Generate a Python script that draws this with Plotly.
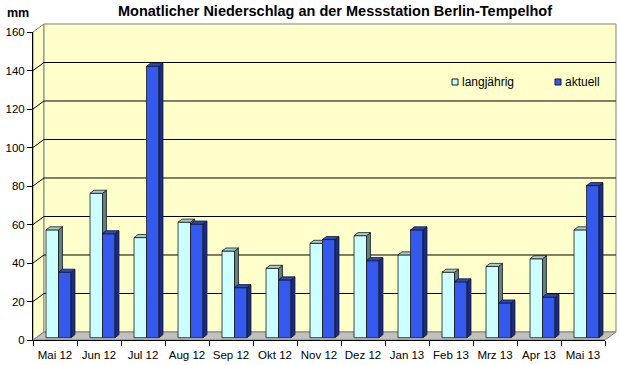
import plotly.graph_objects as go

# ---- data ----
months = ["Mai 12", "Jun 12", "Jul 12", "Aug 12", "Sep 12", "Okt 12", "Nov 12",
          "Dez 12", "Jan 13", "Feb 13", "Mrz 13", "Apr 13", "Mai 13"]
langjaehrig = [56, 75, 52, 60, 45, 36, 49, 53, 43, 34, 37, 41, 56]
aktuell = [34, 54, 141, 59, 26, 30, 51, 40, 56, 29, 18, 21, 79]
y_ticks = [0, 20, 40, 60, 80, 100, 120, 140, 160]

# ---- layout geometry ----
W, H = 620, 365
L, R, T, B = 33, 15, 32, 25
XR = [-0.5, 12.5]
YR = [0, 160]
FONT = "Arial, 'Liberation Sans', sans-serif"

# 3D depth of the walls and bars (in data units)
WALL_DX, WALL_DY = 0.25, 4.16
BAR_DX, BAR_DY = 0.09, 1.6
BASE = 1.2
OFF_L, OFF_D, BW = -0.204, 0.08, 0.284

C_L_FRONT, C_L_TOP, C_L_SIDE = "#CCFFFF", "#A6CDCD", "#5F8282"
C_D_FRONT, C_D_TOP, C_D_SIDE = "#3359EE", "#2847C4", "#1A2A88"


def to_paper(xd, yd):
    xp = (xd - XR[0]) / (XR[1] - XR[0])
    yp = (yd - YR[0]) / (YR[1] - YR[0])
    return xp, yp


def poly_path(pts, close=True):
    s = ""
    for i, (xd, yd) in enumerate(pts):
        xp, yp = to_paper(xd, yd)
        s += ("M" if i == 0 else "L") + f"{xp:.5f},{yp:.5f}"
    return s + ("Z" if close else "")


shapes = []
x0, x1 = XR
y0, y1 = YR
# left wall
shapes.append(dict(type="path", xref="paper", yref="paper", layer="below",
                   path=poly_path([(x0, y0), (x0 + WALL_DX, y0 + WALL_DY),
                                   (x0 + WALL_DX, y1 + WALL_DY), (x0, y1)]),
                   fillcolor="#FFFFCC", line=dict(color="#808080", width=1)))
# back wall
shapes.append(dict(type="path", xref="paper", yref="paper", layer="below",
                   path=poly_path([(x0 + WALL_DX, y0 + WALL_DY), (x1 + WALL_DX, y0 + WALL_DY),
                                   (x1 + WALL_DX, y1 + WALL_DY), (x0 + WALL_DX, y1 + WALL_DY)]),
                   fillcolor="#FFFFCC", line=dict(color="#808080", width=1)))
# floor
shapes.append(dict(type="path", xref="paper", yref="paper", layer="below",
                   path=poly_path([(x0, y0), (x0 + WALL_DX, y0 + WALL_DY),
                                   (x1 + WALL_DX, y0 + WALL_DY), (x1, y0)]),
                   fillcolor="#C0C0C0", line=dict(color="#808080", width=1)))
# gridlines on walls
for v in y_ticks[1:-1]:
    shapes.append(dict(type="path", xref="paper", yref="paper", layer="below",
                       path=poly_path([(x0, v), (x0 + WALL_DX, v + WALL_DY),
                                       (x1 + WALL_DX, v + WALL_DY)], close=False),
                       line=dict(color="#000000", width=1)))

fig = go.Figure()
xs = list(range(len(months)))

fig.add_trace(go.Bar(x=xs, y=langjaehrig, base=[BASE] * len(xs), offset=OFF_L, width=BW,
                     marker=dict(color=C_L_FRONT, line=dict(color="#1a1a1a", width=0.8)),
                     name="langjährig", showlegend=False))
fig.add_trace(go.Bar(x=xs, y=aktuell, base=[BASE] * len(xs), offset=OFF_D, width=BW,
                     marker=dict(color=C_D_FRONT, line=dict(color="#1a1a1a", width=0.8)),
                     name="aktuell", showlegend=False))


def faces(vals, off, other=None):
    tx, ty, sx, sy = [], [], [], []
    for i, v in enumerate(vals):
        le = i + off
        re = le + BW
        top = BASE + v
        rt = re + BAR_DX
        if other is not None and other[i] >= v:
            rt_top = re
        else:
            rt_top = rt
        tx += [le, le + BAR_DX, rt_top, re, le, None]
        ty += [top, top + BAR_DY, top + BAR_DY, top, top, None]
        if other is None:
            low = BASE
        else:
            if other[i] >= v:
                continue
            low = BASE + other[i]
        sx += [re, rt, rt, re, re, None]
        sy += [low, low + BAR_DY, top + BAR_DY, top, low, None]
    return tx, ty, sx, sy


for vals, off, other, ct, cs in [(langjaehrig, OFF_L, aktuell, C_L_TOP, C_L_SIDE),
                                 (aktuell, OFF_D, None, C_D_TOP, C_D_SIDE)]:
    tx, ty, sx, sy = faces(vals, off, other)
    fig.add_trace(go.Scatter(x=sx, y=sy, mode="lines", fill="toself", fillcolor=cs,
                             line=dict(color="#1a1a1a", width=0.8), hoverinfo="skip",
                             showlegend=False))
    fig.add_trace(go.Scatter(x=tx, y=ty, mode="lines", fill="toself", fillcolor=ct,
                             line=dict(color="#1a1a1a", width=0.8), hoverinfo="skip",
                             showlegend=False))


# manual legend
def px_to_paper(px, py):
    return (px - L) / (W - L - R), (H - B - py) / (H - T - B)


annotations = []
for label, color, sq_x in [("langjährig", C_L_FRONT, 452), ("aktuell", C_D_FRONT, 555)]:
    a0 = px_to_paper(sq_x, 85)
    a1 = px_to_paper(sq_x + 6, 79)
    shapes.append(dict(type="rect", xref="paper", yref="paper", x0=a0[0], y0=a0[1],
                       x1=a1[0], y1=a1[1], fillcolor=color,
                       line=dict(color="#1a1a1a", width=1)))
    tp = px_to_paper(sq_x + 8, 82)
    annotations.append(dict(text=label, xref="paper", yref="paper", x=tp[0], y=tp[1],
                            xanchor="left", yanchor="middle", showarrow=False,
                            font=dict(family=FONT, size=12, color="#000000")))

tp = px_to_paper(335, 11)
annotations.append(dict(text="<b>Monatlicher Niederschlag an der Messstation Berlin-Tempelhof</b>",
                        xref="paper", yref="paper", x=tp[0], y=tp[1], xanchor="center",
                        yanchor="middle", showarrow=False,
                        font=dict(family=FONT, size=14.5, color="#000000")))
tp = px_to_paper(5, 13)
annotations.append(dict(text="<b>mm</b>", xref="paper", yref="paper", x=tp[0], y=tp[1],
                        xanchor="left", yanchor="middle", showarrow=False,
                        font=dict(family=FONT, size=12.5, color="#000000")))

fig.update_layout(
    width=W, height=H,
    margin=dict(l=L, r=R, t=T, b=B, autoexpand=False),
    paper_bgcolor="#FFFFFF",
    plot_bgcolor="rgba(0,0,0,0)",
    barmode="overlay",
    shapes=shapes,
    annotations=annotations,
    font=dict(family=FONT, size=11, color="#000000"),
    xaxis=dict(range=XR, tickmode="array", tickvals=xs, ticktext=months,
               ticks="", showgrid=False, zeroline=False, showline=True, automargin=False,
               linecolor="#000000", linewidth=1, ticklabelstandoff=4,
               tickfont=dict(family=FONT, size=11.5, color="#000000"),
               minor=dict(tickmode="array", tickvals=[i - 0.5 for i in range(len(months) + 1)],
                          ticks="outside", ticklen=5, tickcolor="#000000", showgrid=False)),
    yaxis=dict(range=YR, tickmode="array", tickvals=y_ticks, ticks="outside", ticklen=5,
               tickcolor="#000000", showgrid=False, zeroline=False, showline=True,
               automargin=False, linecolor="#000000", linewidth=1,
               tickfont=dict(family=FONT, size=11.5, color="#000000")),
)

fig.write_html("out.html", config={"displayModeBar": False},
               post_script="document.body.style.margin='0';document.body.style.overflow='hidden';")
